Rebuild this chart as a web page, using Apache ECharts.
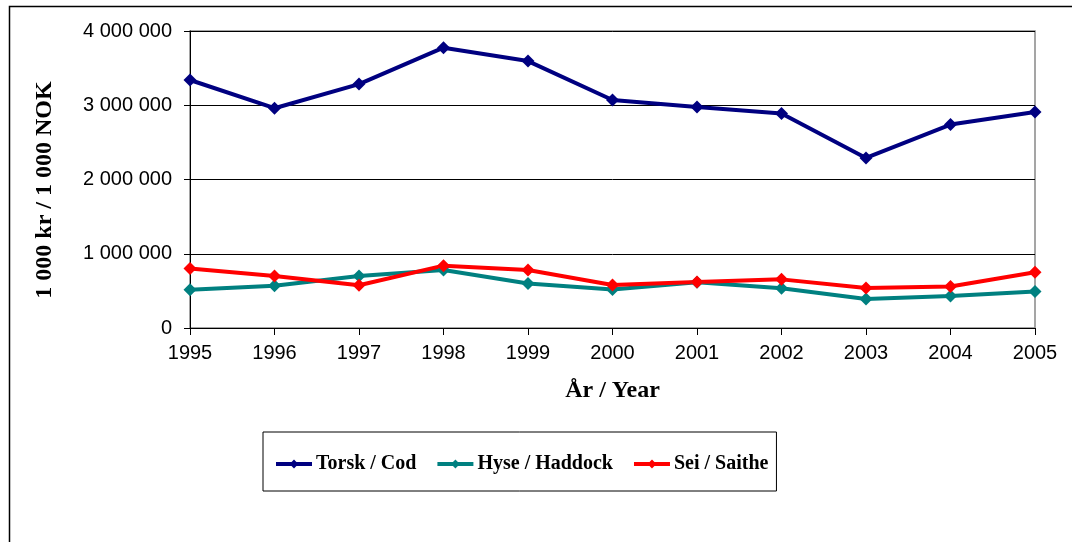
<!DOCTYPE html>
<html>
<head>
<meta charset="utf-8">
<script src="https://cdn.jsdelivr.net/npm/echarts@6/dist/echarts.min.js"></script>
<style>
	html, body { margin: 0; padding: 0; background: #fff; }
	#chart { width: 1072px; height: 542px; }
</style>
</head>
<body>
<div id="chart"></div>
<script>
var years = ['1995', '1996', '1997', '1998', '1999', '2000', '2001', '2002', '2003', '2004', '2005'];
var torsk = [3340000, 2960000, 3285000, 3775000, 3595000, 3070000, 2975000, 2890000, 2290000, 2740000, 2910000];
var hyse = [515000, 570000, 700000, 780000, 600000, 520000, 615000, 535000, 390000, 430000, 490000];
var sei = [800000, 700000, 575000, 840000, 780000, 580000, 620000, 655000, 540000, 560000, 750000];

var seriesNames = ['Torsk / Cod', 'Hyse / Haddock', 'Sei / Saithe'];
var seriesColors = ['#000080', '#008080', '#ff0000'];
var yTitle = '1 000 kr / 1 000 NOK';
var xTitle = 'År / Year';

var serifFont = 'Liberation Serif, Times New Roman, serif';

function fmtNum(v) {
	return String(v).replace(/\B(?=(\d{3})+(?!\d))/g, ' ');
}

function makeSeries(name, data, color) {
	return {
		name: name,
		type: 'line',
		data: data,
		symbol: 'diamond',
		symbolSize: 13,
		lineStyle: { color: color, width: 4 },
		itemStyle: { color: color },
		emphasis: { disabled: true },
		animation: false
	};
}

var chart = echarts.init(document.getElementById('chart'), null, { renderer: 'canvas' });

chart.setOption({
	animation: false,
	backgroundColor: '#fff',
	textStyle: { fontFamily: 'Liberation Sans, Arial, sans-serif' },
	graphic: [
		{
			// outer chart frame (right and bottom lie outside the picture)
			type: 'rect',
			left: 7,
			top: 4,
			shape: { width: 1100, height: 600 },
			style: { fill: 'none', stroke: '#000', lineWidth: 1.5 },
			silent: true
		},
		{
			type: 'text',
			x: 45,
			y: 190,
			rotation: Math.PI / 2,
			style: {
				text: yTitle,
				font: 'bold 24px ' + serifFont,
				fill: '#000',
				align: 'center',
				verticalAlign: 'middle'
			},
			silent: true
		}
	],
	grid: {
		left: 190,
		right: 37,
		top: 31,
		bottom: 214,
		show: true,
		borderColor: '#888',
		borderWidth: 1.5,
		backgroundColor: '#fff'
	},
	legend: {
		data: seriesNames,
		left: 263,
		top: 432,
		padding: [22, 8, 17, 11],
		itemGap: 19,
		itemWidth: 36,
		itemHeight: 11,
		borderColor: '#000',
		borderWidth: 1,
		lineStyle: { width: 4 },
		textStyle: {
			fontFamily: serifFont,
			fontWeight: 'bold',
			fontSize: 20,
			color: '#000',
			padding: [0, 0, 0, -1]
		}
	},
	xAxis: {
		type: 'category',
		data: years,
		boundaryGap: false,
		name: xTitle,
		nameLocation: 'middle',
		nameGap: 51,
		nameTextStyle: {
			fontFamily: serifFont,
			fontWeight: 'bold',
			fontSize: 24,
			color: '#000'
		},
		axisLine: { lineStyle: { color: '#000', width: 1 } },
		axisTick: { show: true, length: 7, lineStyle: { color: '#000' } },
		axisLabel: { fontSize: 20, color: '#000', margin: 15 },
		splitLine: { show: false }
	},
	yAxis: {
		type: 'value',
		min: 0,
		max: 4000000,
		interval: 1000000,
		axisLine: { show: true, lineStyle: { color: '#000', width: 1 } },
		axisTick: { show: true, length: 6, lineStyle: { color: '#000' } },
		axisLabel: {
			fontSize: 20,
			color: '#000',
			margin: 18,
			formatter: function (v) { return fmtNum(v); }
		},
		splitLine: { show: true, lineStyle: { color: '#000', width: 1 } }
	},
	series: [
		makeSeries(seriesNames[0], torsk, seriesColors[0]),
		makeSeries(seriesNames[1], hyse, seriesColors[1]),
		makeSeries(seriesNames[2], sei, seriesColors[2])
	]
});
</script>
</body>
</html>
